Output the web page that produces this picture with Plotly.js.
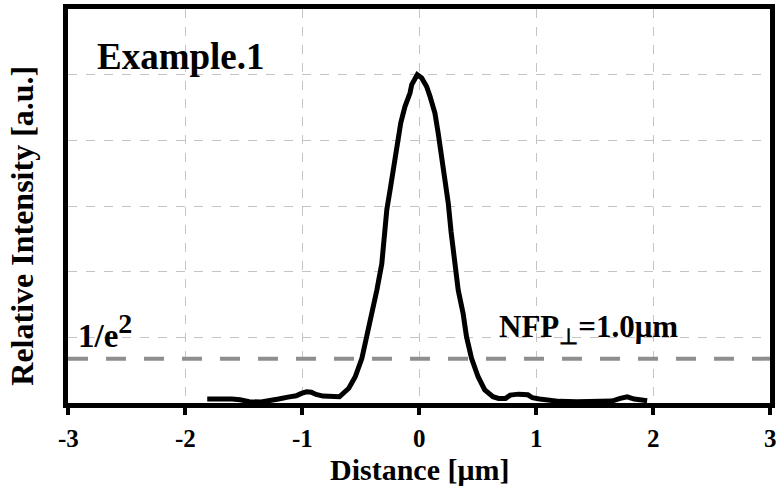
<!DOCTYPE html>
<html>
<head>
<meta charset="utf-8">
<script src="https://cdn.plot.ly/plotly-3.0.1.min.js"></script>
<style>html,body{margin:0;padding:0;background:#fff;}#chart{width:778px;height:490px;}</style>
</head>
<body>
<div id="chart"></div>
<script>
// Profile data
var distance = [-1.81, -1.7, -1.6, -1.53, -1.45, -1.35, -1.28, -1.2, -1.12, -1.05, -1.0, -0.96, -0.92, -0.88, -0.82, -0.75, -0.68,
  -0.6, -0.545, -0.488, -0.445, -0.403, -0.36, -0.318, -0.295, -0.275, -0.247, -0.219, -0.176, -0.156, -0.12, -0.077, -0.062, -0.034, -0.015,
  0.023, 0.065, 0.094, 0.136, 0.164, 0.193, 0.221, 0.25, 0.274, 0.306, 0.335, 0.377, 0.406, 0.449, 0.505, 0.562, 0.632,
  0.68, 0.74, 0.78, 0.85, 0.93, 0.97, 1.03, 1.09, 1.2, 1.35, 1.5, 1.65, 1.72, 1.78, 1.84, 1.9, 1.95];
var intensity = [0.012, 0.013, 0.012, 0.010, 0.004, 0.003, 0.006, 0.012, 0.018, 0.022, 0.030, 0.034, 0.033, 0.026, 0.021, 0.021, 0.019,
  0.045, 0.080, 0.136, 0.202, 0.273, 0.344, 0.424, 0.517, 0.589, 0.649, 0.710, 0.802, 0.853, 0.903, 0.944, 0.970, 0.990, 1.0,
  0.990, 0.964, 0.934, 0.883, 0.822, 0.751, 0.680, 0.609, 0.522, 0.424, 0.344, 0.273, 0.202, 0.136, 0.080, 0.040, 0.019,
  0.014, 0.014, 0.024, 0.027, 0.025, 0.016, 0.012, 0.010, 0.005, 0.004, 0.004, 0.006, 0.014, 0.019, 0.012, 0.008, 0.007];
var threshold = 0.135; // 1/e^2
var thresholdX = [-3, 3];
var xTicks = [-3, -2, -1, 0, 1, 2, 3];
var xTickLabels = ['-3', '-2', '-1', '0', '1', '2', '3'];
var yGrid = [0, 0.2, 0.4, 0.6, 0.8, 1.0, 1.2];

var serif = 'Liberation Serif';

var traces = [
  {x: thresholdX, y: [threshold, threshold], mode: 'lines', type: 'scatter',
   line: {color: '#8e8e8e', width: 4, dash: '20px,18px'}, hoverinfo: 'skip'},
  {x: distance, y: intensity, mode: 'lines', type: 'scatter',
   line: {color: '#000', width: 5}, hoverinfo: 'skip'}
];

// tick labels drawn at the axis tick positions (data coords)
var tickAnnotations = xTicks.map(function (v, i) {
  return {x: v, y: 0, xref: 'x', yref: 'paper', xanchor: 'center', yanchor: 'middle', yshift: -35,
          showarrow: false, text: '<b>' + xTickLabels[i] + '</b>',
          font: {family: serif, size: 25, color: '#000'}};
});

var layout = {
  width: 778, height: 490,
  margin: {l: 68, r: 8, t: 9, b: 87},
  paper_bgcolor: '#fff', plot_bgcolor: '#fff',
  showlegend: false,
  font: {family: serif, color: '#000'},
  xaxis: {
    range: [-3, 3], tickmode: 'array', tickvals: xTicks, showticklabels: false,
    showline: true, linecolor: '#000', linewidth: 5, mirror: true,
    ticks: 'outside', ticklen: 7, tickwidth: 4, tickcolor: '#000',
    showgrid: true, gridcolor: '#c4c4c4', gridwidth: 1, griddash: 'dash',
    zeroline: false
  },
  yaxis: {
    range: [0, 1.2], tickmode: 'array', tickvals: yGrid, showticklabels: false, ticks: '',
    showline: true, linecolor: '#000', linewidth: 5, mirror: true,
    showgrid: true, gridcolor: '#c4c4c4', gridwidth: 1, griddash: 'dash',
    zeroline: false
  },
  annotations: tickAnnotations.concat([
    {x: 0.5, y: 0, xref: 'paper', yref: 'paper', xanchor: 'center', yanchor: 'middle', yshift: -66,
     showarrow: false, text: '<b>Distance [μm]</b>', font: {family: serif, size: 30, color: '#000'}},
    {x: 0, y: 0.45, xref: 'paper', yref: 'paper', xanchor: 'center', yanchor: 'middle', xshift: -46,
     textangle: -90, showarrow: false,
     text: '<b>Relative Intensity [a.u.]</b>', font: {family: serif, size: 32, color: '#000'}},
    {x: -2.77, y: 1.055, xref: 'x', yref: 'y', xanchor: 'left', yanchor: 'middle', showarrow: false,
     text: '<b>Example.1</b>', font: {family: serif, size: 37, color: '#000'}},
    {x: -2.93, y: 0.22, xref: 'x', yref: 'y', xanchor: 'left', yanchor: 'middle', showarrow: false,
     text: '<b>1/e<sup><span style="font-size:28px">2</span></sup></b>', font: {family: serif, size: 33, color: '#000'}},
    {x: 0.665, y: 0.225, xref: 'x', yref: 'y', xanchor: 'left', yanchor: 'middle', showarrow: false,
     text: '<b>NFP<sub>⊥</sub>=1.0μm</b>', font: {family: serif, size: 31, color: '#000'}}
  ])
};

Plotly.newPlot('chart', traces, layout, {displayModeBar: false, staticPlot: true});
</script>
</body>
</html>
